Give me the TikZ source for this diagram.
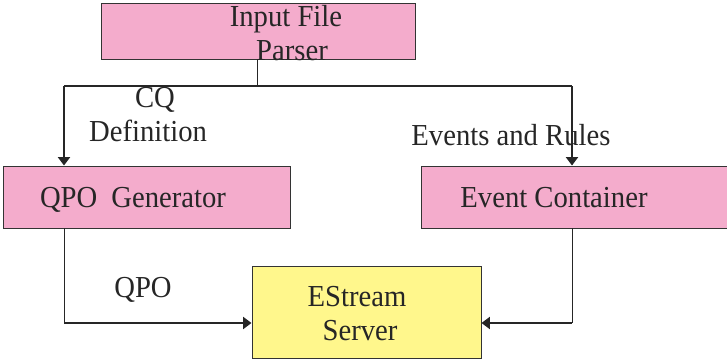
\documentclass[tikz,border=0pt]{standalone}
\usepackage{fontspec}
\setmainfont[FakeStretch=0.94]{Liberation Serif}
\usetikzlibrary{arrows.meta}
\definecolor{boxpink}{RGB}{244,172,204}
\definecolor{boxyellow}{RGB}{255,247,140}
\tikzset{
  pinkbox/.style={draw=black!80, line width=0.9pt, fill=boxpink, inner sep=0pt},
  yellowbox/.style={draw=black!80, line width=0.9pt, fill=boxyellow, inner sep=0pt},
  txt/.style={font=\fontsize{30.5}{34}\selectfont, text=black!85, inner sep=0pt, align=center},
  thinline/.style={draw=black!85, line width=1pt},
  thickarrow/.style={draw=black!85, line width=2.6pt, -{Triangle[length=8.5pt,width=12pt]}},
  thickline/.style={draw=black!85, line width=2.2pt},
}
\begin{document}
\begin{tikzpicture}[x=1pt,y=-1pt]
\useasboundingbox (0,0) rectangle (727,360);
% boxes
\node[pinkbox, minimum width=314pt, minimum height=56pt] (parser) at (258,31) {};
\node[pinkbox, minimum width=287pt, minimum height=62pt] (qpog) at (146.5,197) {};
\node[pinkbox, minimum width=306pt, minimum height=62pt] (evc) at (574,197) {};
\node[yellowbox, minimum width=229pt, minimum height=92pt] (es) at (366.5,312) {};
% box texts
\node[txt] (parsertxt) at (286,33) {Input File\\\hspace*{12pt}Parser};
\node[txt] (qpogtxt) at (133,200) {QPO\hspace{14pt}Generator};
\node[txt] (evctxt) at (554,198) {Event Container};
\node[txt] (estxt) at (357,314) {EStream\\\hspace*{6pt}Server};
% coordinates
\coordinate (j) at (257,86);
\coordinate (jl) at (64,86);
\coordinate (jr) at (572,86);
\coordinate (bl) at (64,323);
\coordinate (br) at (572,323);
% connectors
\draw[thinline] (parser.south -| j) -- (j);
\draw[thickline] (jl) -- (jr);
\draw[thickarrow] (jl) -- (jl |- qpog.north);
\draw[thickarrow] (jr) -- (jr |- evc.north);
\draw[thinline] (jl |- qpog.south) -- (bl);
\draw[thinline] (jr |- evc.south) -- (br);
\draw[thickarrow] (bl) -- (bl -| es.west);
\draw[thickarrow] (br) -- (br -| es.east);
% labels
\node[txt] (cq) at (148,115) {\hspace*{14pt}CQ\\Definition};
\node[txt] (evr) at (511,135) {Events and Rules};
\node[txt] (qpo) at (143,290) {QPO};
\end{tikzpicture}
\end{document}
